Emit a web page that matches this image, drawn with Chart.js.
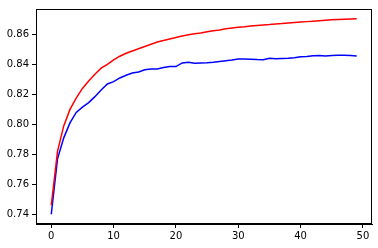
<!DOCTYPE html>
<html>
<head>
<meta charset="utf-8">
<script src="https://cdn.jsdelivr.net/npm/chart.js@4/dist/chart.umd.min.js"></script>
<style>
html,body{margin:0;padding:0;background:#fff;}
#wrap{width:378px;height:248px;position:relative;}
</style>
</head>
<body>
<div id="wrap"><canvas id="c" width="378" height="248"></canvas></div>
<script>
const epochs = [0,1,2,3,4,5,6,7,8,9,10,11,12,13,14,15,16,17,18,19,20,21,22,23,24,25,26,27,28,29,30,31,32,33,34,35,36,37,38,39,40,41,42,43,44,45,46,47,48,49];
const redSeries = [0.746,0.782,0.799,0.810,0.8175,0.824,0.829,0.8335,0.8375,0.840,0.843,0.8455,0.8475,0.849,0.8505,0.852,0.8535,0.855,0.856,0.857,0.858,0.859,0.8598,0.8605,0.861,0.8618,0.8625,0.863,0.8638,0.8644,0.8648,0.8652,0.8657,0.866,0.8663,0.8666,0.867,0.8673,0.8677,0.868,0.8683,0.8686,0.8689,0.8692,0.8695,0.8698,0.870,0.8702,0.8704,0.8705];
const blueSeries = [0.740,0.777,0.791,0.801,0.808,0.8115,0.8145,0.8185,0.823,0.827,0.8285,0.831,0.8328,0.8343,0.835,0.8365,0.837,0.837,0.838,0.8386,0.8386,0.841,0.8414,0.8408,0.841,0.8412,0.8415,0.842,0.8425,0.843,0.8436,0.8437,0.8435,0.8433,0.8432,0.8441,0.8438,0.844,0.8442,0.8445,0.8452,0.8453,0.8458,0.8459,0.8457,0.846,0.8462,0.8461,0.846,0.8456];
const xTicks = [0,10,20,30,40,50];
const yTicks = [0.74,0.76,0.78,0.80,0.82,0.84,0.86];

const frame = {
  id:'frame',
  afterDraw(chart){
    const a = chart.chartArea, ctx = chart.ctx;
    ctx.save();
    ctx.strokeStyle = '#000';
    ctx.lineWidth = 1;
    ctx.strokeRect(Math.round(a.left)+0.5, Math.round(a.top)+0.5, Math.round(a.right-a.left)-1, Math.round(a.bottom-a.top)-1);
    ctx.restore();
  }
};

const font = {family:'DejaVu Sans', size:10};
new Chart(document.getElementById('c'), {
  type:'line',
  data:{
    datasets:[
      {data: epochs.map((e,i)=>({x:e,y:redSeries[i]})), borderColor:'#ff0000', borderWidth:1.5, pointRadius:0, fill:false, tension:0},
      {data: epochs.map((e,i)=>({x:e,y:blueSeries[i]})), borderColor:'#0000ff', borderWidth:1.5, pointRadius:0, fill:false, tension:0}
    ]
  },
  options:{
    responsive:false,
    animation:false,
    devicePixelRatio:1,
    layout:{padding:{left:0,top:6,right:6,bottom:0}},
    plugins:{legend:{display:false}, tooltip:{enabled:false}},
    scales:{
      x:{
        type:'linear', min:-2.45, max:51.45,
        afterBuildTicks: ax => { ax.ticks = xTicks.map(v=>({value:v})); },
        afterFit: ax => { ax.height = 24; },
        grid:{drawOnChartArea:false, drawTicks:true, tickLength:4, color:'#000'},
        border:{display:true, color:'#000'},
        ticks:{font, color:'#000', padding:2, maxRotation:0, autoSkip:false}
      },
      y:{
        type:'linear', min:0.73348, max:0.87703,
        afterBuildTicks: ax => { ax.ticks = yTicks.map(v=>({value:v})); },
        afterFit: ax => { ax.width = 36; },
        grid:{drawOnChartArea:false, drawTicks:true, tickLength:4, color:'#000'},
        border:{display:true, color:'#000'},
        ticks:{font, color:'#000', padding:3, callback: v => v.toFixed(2)}
      }
    }
  },
  plugins:[frame]
});
</script>
</body>
</html>
